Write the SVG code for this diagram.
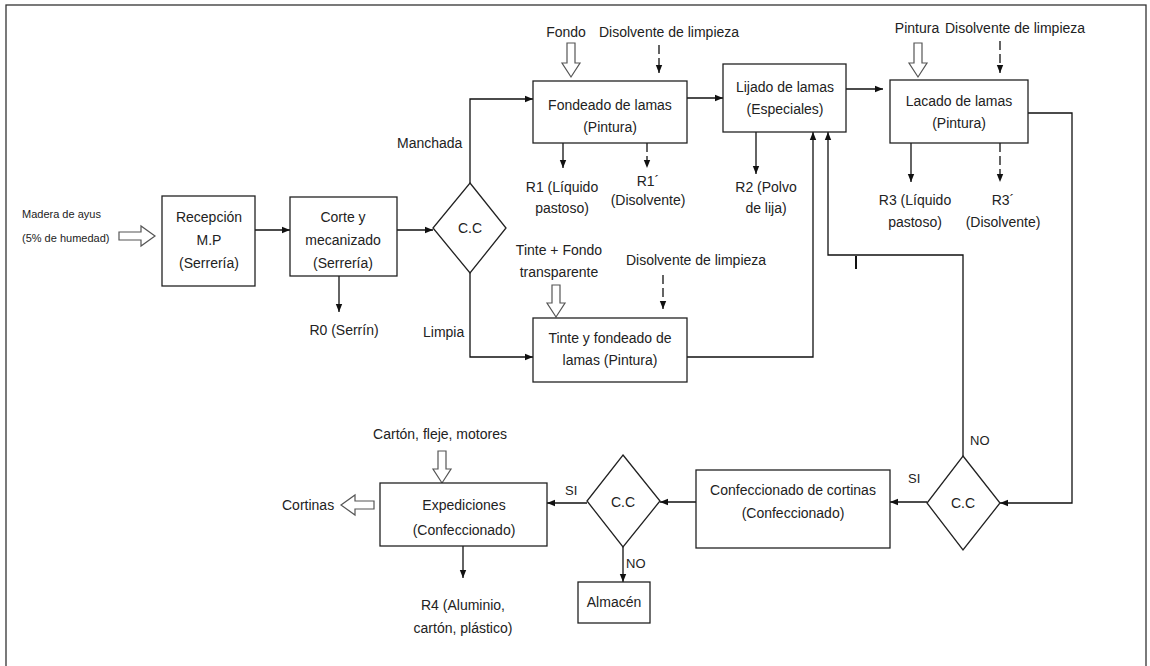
<svg xmlns="http://www.w3.org/2000/svg" width="1150" height="666" viewBox="0 0 1150 666">
<defs>
<style>
.t{font-family:"Liberation Sans",Arial,sans-serif;font-size:14px;fill:#222;text-anchor:middle}
.s{font-size:11px;text-anchor:start}
.l{text-anchor:start}
.sm{font-size:13px;text-anchor:start}
.box{fill:#fff;stroke:#222;stroke-width:1.3}
.c{fill:none;stroke:#111;stroke-width:1.3}
.d{fill:none;stroke:#111;stroke-width:1.3;stroke-dasharray:9,4}
.h{fill:#fff;stroke:#555;stroke-width:1.2}
</style>
<marker id="ah" viewBox="0 0 10 10" refX="10" refY="5" markerWidth="8" markerHeight="8" markerUnits="userSpaceOnUse" orient="auto"><path d="M0,1 L10,5 L0,9 z" fill="#111"/></marker>
</defs>
<rect x="0" y="0" width="1150" height="666" fill="#fff"/>
<rect x="6" y="5" width="1140" height="680" fill="none" stroke="#333" stroke-width="1.3"/>

<g id="connectors">
<!-- inputs (hollow arrows) -->
<path class="h" d="M119,232 H141 V226 L155,236 L141,246 V240 H119 Z"/>
<path class="h" d="M567,43 V63 H562 L571,77 L580,63 H575 V43 Z"/>
<path class="h" d="M914,43 V63 H909 L918,77 L927,63 H922 V43 Z"/>
<path class="h" d="M552,285 V303 H547 L556,317 L565,303 H560 V285 Z"/>
<path class="h" d="M438,451 V469 H433 L442,483 L451,469 H446 V451 Z"/>
<path class="h" d="M374,501 H355 V495 L341,505 L355,515 V509 H374 Z"/>
<!-- dashed solvent inputs -->
<line class="d" x1="659" y1="45" x2="659" y2="73" marker-end="url(#ah)"/>
<line class="d" x1="1000" y1="41" x2="1000" y2="73" marker-end="url(#ah)"/>
<line class="d" x1="663" y1="275" x2="663" y2="309" marker-end="url(#ah)"/>
<!-- main flow -->
<line class="c" x1="255" y1="230" x2="290" y2="230" marker-end="url(#ah)"/>
<line class="c" x1="397" y1="230" x2="433" y2="230" marker-end="url(#ah)"/>
<polyline class="c" points="470,183 470,99 533,99" marker-end="url(#ah)"/>
<polyline class="c" points="470,273 470,357 533,357" marker-end="url(#ah)"/>
<line class="c" x1="687" y1="98" x2="723" y2="98" marker-end="url(#ah)"/>
<line class="c" x1="846" y1="89" x2="883" y2="89" marker-end="url(#ah)"/>
<polyline class="c" points="687,357 813,357 813,132" marker-end="url(#ah)"/>
<polyline class="c" points="1028,113 1072,113 1072,503 1000,503" marker-end="url(#ah)"/>
<polyline class="c" points="963,456 963,255 828,255 828,132" marker-end="url(#ah)"/>
<line x1="856" y1="256" x2="856" y2="269" stroke="#111" stroke-width="2"/>
<line class="c" x1="927" y1="502" x2="890" y2="502" marker-end="url(#ah)"/>
<line class="c" x1="696" y1="502" x2="660" y2="502" marker-end="url(#ah)"/>
<line class="c" x1="587" y1="503" x2="547" y2="503" marker-end="url(#ah)"/>
<line class="c" x1="623" y1="547" x2="623" y2="582" marker-end="url(#ah)"/>
<!-- waste outputs -->
<line class="c" x1="339" y1="276" x2="339" y2="312" marker-end="url(#ah)"/>
<line class="c" x1="563" y1="143" x2="563" y2="168" marker-end="url(#ah)"/>
<line class="d" x1="647" y1="143" x2="647" y2="168" marker-end="url(#ah)"/>
<line class="c" x1="756" y1="132" x2="756" y2="174" marker-end="url(#ah)"/>
<line class="c" x1="911" y1="143" x2="911" y2="182" marker-end="url(#ah)"/>
<line class="d" x1="1000" y1="143" x2="1000" y2="182" marker-end="url(#ah)"/>
<line class="c" x1="463" y1="546" x2="463" y2="578" marker-end="url(#ah)"/>
</g>

<g id="labels">
<text class="t s" x="22" y="218">Madera de ayus</text>
<text class="t s" x="22" y="242">(5% de humedad)</text>
<text class="t" x="566" y="37">Fondo</text>
<text class="t l" x="599" y="37">Disolvente de limpieza</text>
<text class="t" x="917" y="33">Pintura</text>
<text class="t l" x="945" y="33">Disolvente de limpieza</text>
<text class="t" x="559" y="255">Tinte + Fondo</text>
<text class="t" x="559" y="277">transparente</text>
<text class="t l" x="626" y="265">Disolvente de limpieza</text>
<text class="t" x="440" y="439">Cartón, fleje, motores</text>
<text class="t l" x="282" y="510">Cortinas</text>
<text class="t l" x="397" y="148">Manchada</text>
<text class="t l" x="423" y="337">Limpia</text>
<text class="t" x="344" y="335">R0 (Serrín)</text>
<text class="t" x="562" y="192">R1 (Líquido</text>
<text class="t" x="562" y="213">pastoso)</text>
<text class="t" x="648" y="186">R1´</text>
<text class="t" x="648" y="205">(Disolvente)</text>
<text class="t" x="766" y="192">R2 (Polvo</text>
<text class="t" x="766" y="213">de lija)</text>
<text class="t" x="915" y="205">R3 (Líquido</text>
<text class="t" x="915" y="227">pastoso)</text>
<text class="t" x="1003" y="205">R3´</text>
<text class="t" x="1003" y="227">(Disolvente)</text>
<text class="t" x="463" y="610">R4 (Aluminio,</text>
<text class="t" x="463" y="633">cartón, plástico)</text>
<text class="t sm" x="970" y="445">NO</text>
<text class="t sm" x="908" y="483">SI</text>
<text class="t sm" x="565" y="495">SI</text>
<text class="t sm" x="626" y="568">NO</text>
</g>

<g id="recepcion">
<rect class="box" x="162" y="196" width="93" height="90"/>
<text class="t" x="209" y="222">Recepción</text>
<text class="t" x="209" y="245">M.P</text>
<text class="t" x="209" y="268">(Serrería)</text>
</g>
<g id="corte">
<rect class="box" x="290" y="197" width="107" height="79"/>
<text class="t" x="343" y="222">Corte y</text>
<text class="t" x="343" y="245">mecanizado</text>
<text class="t" x="343" y="268">(Serrería)</text>
</g>
<g id="cc1">
<polygon class="box" points="470,183 506,228 470,273 433,228"/>
<text class="t" x="470" y="233">C.C</text>
</g>
<g id="fondeado">
<rect class="box" x="533" y="81" width="154" height="62"/>
<text class="t" x="610" y="110">Fondeado de lamas</text>
<text class="t" x="610" y="132">(Pintura)</text>
</g>
<g id="tinte">
<rect class="box" x="533" y="318" width="154" height="64"/>
<text class="t" x="610" y="343">Tinte y fondeado de</text>
<text class="t" x="610" y="365">lamas (Pintura)</text>
</g>
<g id="lijado">
<rect class="box" x="723" y="64" width="123" height="68"/>
<text class="t" x="785" y="92">Lijado de lamas</text>
<text class="t" x="785" y="114">(Especiales)</text>
</g>
<g id="lacado">
<rect class="box" x="890" y="80" width="138" height="63"/>
<text class="t" x="959" y="106">Lacado de lamas</text>
<text class="t" x="959" y="128">(Pintura)</text>
</g>
<g id="cc2">
<polygon class="box" points="963,456 1000,503 963,550 927,503"/>
<text class="t" x="963" y="508">C.C</text>
</g>
<g id="confeccionado">
<rect class="box" x="696" y="470" width="194" height="78"/>
<text class="t" x="793" y="495">Confeccionado de cortinas</text>
<text class="t" x="793" y="518">(Confeccionado)</text>
</g>
<g id="cc3">
<polygon class="box" points="623,455 660,501 623,547 587,501"/>
<text class="t" x="623" y="507">C.C</text>
</g>
<g id="expediciones">
<rect class="box" x="380" y="483" width="167" height="63"/>
<text class="t" x="464" y="510">Expediciones</text>
<text class="t" x="464" y="535">(Confeccionado)</text>
</g>
<g id="almacen">
<rect class="box" x="578" y="582" width="72" height="41"/>
<text class="t" x="614" y="607">Almacén</text>
</g>
</svg>
